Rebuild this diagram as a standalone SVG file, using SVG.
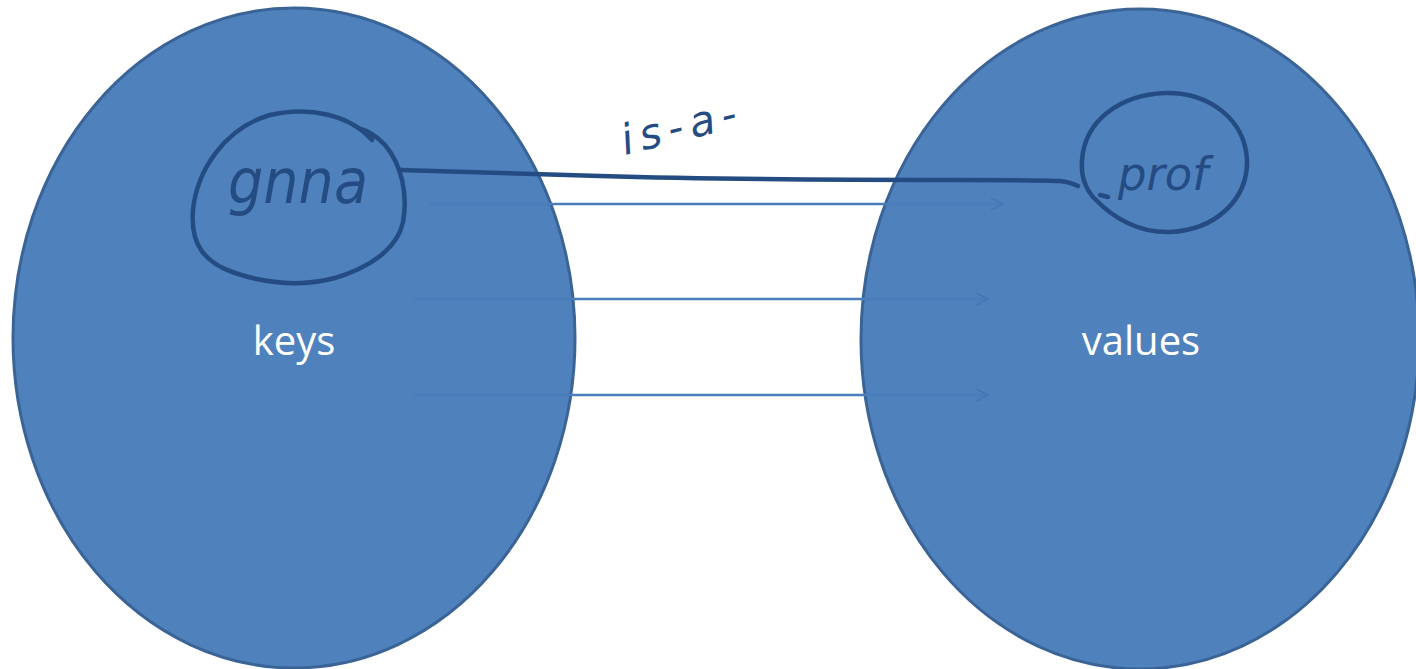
<svg xmlns="http://www.w3.org/2000/svg" width="1416" height="669" viewBox="0 0 1416 669">
<style>
.set{fill:#4F81BD;stroke:#3A6396;stroke-width:3}
.lbl{font-family:"Open Sans","Liberation Sans",sans-serif;font-size:40px;fill:#FFFFFF;text-anchor:middle}
.arr{stroke:#4A7EBB;stroke-width:2.5;fill:none}
.ink{stroke:#244C82;stroke-width:4.5;fill:none;stroke-linecap:round;stroke-linejoin:round}
.hand{font-family:"DejaVu Sans","Liberation Sans",sans-serif;font-style:italic;fill:#244C82}
</style>
<defs>
<marker id="ah" viewBox="0 0 14 14" refX="13" refY="7" markerWidth="14" markerHeight="14" markerUnits="userSpaceOnUse" orient="auto">
<path d="M1,1 L13,7 L1,13" fill="none" stroke="#4677B3" stroke-width="1.5"/>
</marker>
</defs>
<rect width="1416" height="669" fill="#FFFFFF"/>
<g id="keys">
<ellipse class="set" cx="294" cy="338" rx="281" ry="330"/>
<text class="lbl" x="294" y="355">keys</text>
</g>
<g id="values">
<ellipse class="set" cx="1140" cy="339" rx="279" ry="330"/>
<text class="lbl" x="1141" y="355">values</text>
</g>
<g id="connectors">
<line class="arr" x1="430" y1="204" x2="1003" y2="204" marker-end="url(#ah)"/>
<line class="arr" x1="414" y1="299" x2="988" y2="299" marker-end="url(#ah)"/>
<line class="arr" x1="414" y1="395" x2="988" y2="395" marker-end="url(#ah)"/>
</g>
<g id="gnna">
<path class="ink" d="M372,140 C350,115 310,106 270,115 C225,128 197,170 193,210 C190,245 205,263 235,273 C265,283 300,287 335,278 C368,268 397,250 403,222 C408,195 402,165 385,145 C375,134 365,130 358,128"/>
<text class="hand" x="228" y="203" font-size="62" textLength="140" lengthAdjust="spacingAndGlyphs">gnna</text>
</g>
<g id="prof">
<path class="ink" d="M1082,160 C1085,120 1120,95 1165,93 C1210,92 1245,120 1247,160 C1248,200 1215,230 1170,232 C1135,233 1110,215 1093,197 C1083,185 1081,172 1082,160"/>
<path class="ink" d="M1100,195 L1108,197"/>
<text class="hand" x="1118" y="190" font-size="46" textLength="90" lengthAdjust="spacingAndGlyphs">prof</text>
</g>
<g id="relation">
<path class="ink" d="M400,170 C450,171 520,173 600,176 C700,179 850,180 950,180 C1000,180 1040,180 1060,181 C1068,182 1074,184 1078,186"/>
<text class="hand" x="625" y="155" font-size="42" letter-spacing="7" transform="rotate(-14 625 155)">is-a-</text>
</g>
</svg>
